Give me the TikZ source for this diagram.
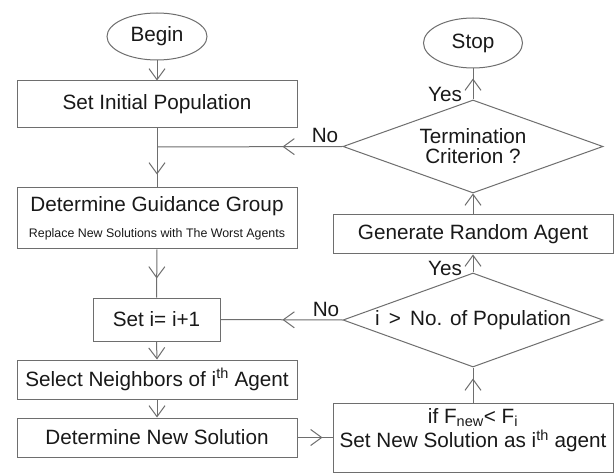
\documentclass[tikz,border=0pt]{standalone}
\usepackage{fontspec}
\setmainfont{Liberation Sans}
\usetikzlibrary{shapes.geometric,arrows.meta,decorations.markings}
\definecolor{lc}{RGB}{110,110,110}
\definecolor{tc}{RGB}{25,25,25}
\tikzset{
  vtip/.tip={Straight Barb[length=11pt,width=16pt,line width=1pt]},
  conn/.style={draw=lc,line width=1pt},
  tipend/.style={conn,-vtip},
  tipat/.style={conn,postaction={decorate},decoration={markings,mark=at position #1 with {\arrow{vtip}}}},
  bigtext/.style={font=\fontsize{20.7}{20}\selectfont,text=tc},
  stepbox/.style={draw=lc,line width=1pt,rectangle,inner sep=0pt,bigtext,align=center},
  oval/.style={draw=lc,line width=1pt,ellipse,inner sep=0pt,bigtext},
  decision/.style={draw=lc,line width=1pt,diamond,inner sep=0pt,bigtext},
  lbl/.style={bigtext,inner sep=0pt}
}
\begin{document}
\begin{tikzpicture}[x=1pt,y=-1pt]
\useasboundingbox[fill=white] (0,0) rectangle (616,473);
% left column
\node[oval,minimum width=100pt,minimum height=47pt] (begin) at (157,36.5) {Begin};
\node[stepbox,minimum width=280pt,minimum height=47pt] (sip) at (157,104.5) {Set Initial Population};
\node[stepbox,minimum width=280pt,minimum height=61pt] (gg) at (157,218.5)
  {Determine Guidance Group\\[6pt]{\fontsize{12.4}{14}\selectfont Replace New Solutions with The Worst Agents}};
\node[stepbox,minimum width=127pt,minimum height=43pt] (seti) at (156.5,319.5) {Set i= i+1};
\node[stepbox,minimum width=280pt,minimum height=39pt] (sel) at (157,379.5) {Select Neighbors of i\textsuperscript{th} Agent};
\node[stepbox,minimum width=280pt,minimum height=39pt] (dns) at (157,437.5) {Determine New Solution};
% right column
\node[stepbox,minimum width=280pt,minimum height=69pt] (ifb) at (473,437.5) {};
\node[bigtext,align=center,inner sep=0pt] (ift) at (473,430) {if F\textsubscript{new}< F\textsubscript{i}\\[2pt]Set New Solution as i\textsuperscript{th} agent};
\node[decision,minimum width=260pt,minimum height=94pt] (d2) at (473,320) {};
\node[lbl] (d2t) at (473,320) {i \,>\, No. of Population};
\node[stepbox,minimum width=280pt,minimum height=39pt] (gen) at (473,234.5) {Generate Random Agent};
\node[decision,minimum width=260pt,minimum height=93pt] (d1) at (473,146.5) {};
\node[lbl,align=center] (d1t) at (473,146) {Termination\\Criterion ?};
\node[oval,minimum width=99pt,minimum height=50pt] (stop) at (473,43) {Stop};
% labels
\node[lbl] (no1) at (325,135) {No};
\node[lbl] (no2) at (326,309) {No};
\node[lbl] (yes1) at (445,94) {Yes};
\node[lbl] (yes2) at (445,268) {Yes};
\coordinate (j1) at (157,147);
% connectors
\draw[tipend] (begin.south) -- (sip.north);
\draw[tipat=-13pt] (sip.south) -- (gg.north);
\draw[tipat=-19pt] (gg.south) -- (seti.north);
\draw[tipend] (seti.south) -- (sel.north);
\draw[tipend] (sel.south) -- (dns.north);
\draw[tipat=-10pt] (dns.east) -- (ifb.west);
\draw[tipat=-11pt] (ifb.north) -- (d2.south);
\draw[tipend] (d2.north) -- (gen.south);
\draw[tipend] (gen.north) -- (d1.south);
\draw[tipat=-10pt] (d1.north) -- (stop.south);
\draw[tipat=60pt] (d2.west) -- (seti.east);
\draw[tipat=60pt] (d1.west) -- (j1);
\end{tikzpicture}
\end{document}
